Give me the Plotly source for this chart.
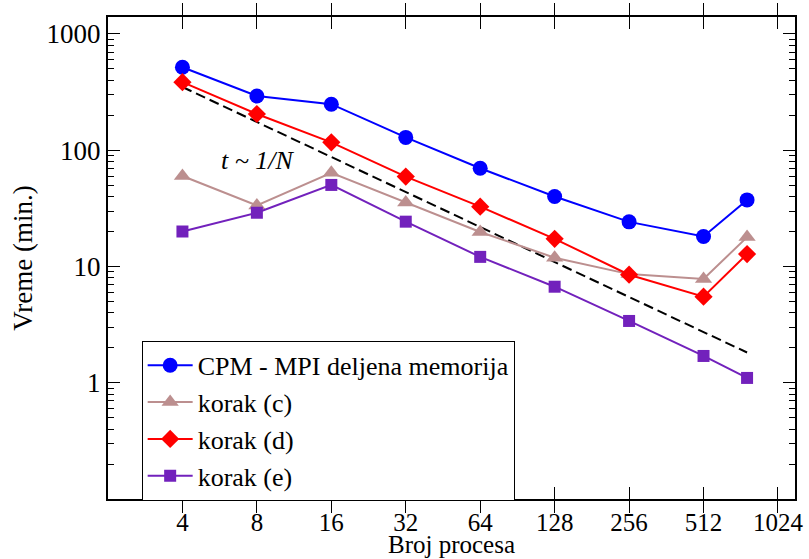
import plotly.graph_objects as go
import numpy as np

procs = [4, 8, 16, 32, 64, 128, 256, 512, 768]
cpm = [518, 293, 249, 129, 70, 40, 24.2, 18.1, 37.4]
korak_c = [60, 33.5, 64, 35.5, 19.8, 11.9, 8.6, 7.8, 17.9]
korak_d = [385, 205, 117, 59.3, 32.7, 17.3, 8.5, 5.5, 12.8]
korak_e = [20, 29, 50.3, 24.3, 12.1, 6.7, 3.4, 1.7, 1.1]
ideal_x = [4, 768]
ideal_y = [350, 1.82]

x_ticks = [4, 8, 16, 32, 64, 128, 256, 512, 1024]
y_ticks = [1, 10, 100, 1000]
y_minor = [m * 10 ** k for k in range(-1, 4) for m in range(2, 10) if m * 10 ** k < 1400]

FONT = "Liberation Serif, Times New Roman, Times, serif"
fig = go.Figure()

series = [
    ("CPM - MPI deljena memorija", cpm, "#0000ff", "circle", 15),
    ("korak (c)", korak_c, "#bc8f8f", "triangle-up", 15),
    ("korak (d)", korak_d, "#ff0000", "diamond", 14),
    ("korak (e)", korak_e, "#7221bc", "square", 12),
]
fig.add_trace(go.Scatter(x=ideal_x, y=ideal_y, mode="lines", showlegend=False,
                         line=dict(color="black", width=2, dash="10px,5px")))
for name, ys, col, sym, sz in series:
    fig.add_trace(go.Scatter(x=procs, y=ys, name=name, mode="lines+markers",
                             line=dict(color=col, width=2),
                             marker=dict(color=col, symbol=sym, size=sz)))

# invisible trace for minor tick axis
fig.add_trace(go.Scatter(x=ideal_x, y=ideal_y, yaxis="y2", mode="lines",
                         line=dict(width=0), showlegend=False, hoverinfo="skip"))

yr = [-1, np.log10(1400)]
fig.update_layout(
    width=809, height=559,
    margin=dict(l=108, r=14, t=17, b=60),
    paper_bgcolor="white", plot_bgcolor="white",
    font=dict(family=FONT, size=27, color="black"),
    xaxis=dict(type="log", range=[np.log10(2), np.log10(1200)], automargin=False,
               tickvals=x_ticks, ticktext=[str(v) for v in x_ticks],
               tickfont=dict(size=25),
               ticks="inside", ticklen=12, tickwidth=1, tickcolor="black",
               showline=True, linecolor="black", linewidth=2, mirror="allticks",
               showgrid=False, zeroline=False),
    yaxis=dict(type="log", range=yr, automargin=False,
               tickvals=y_ticks, ticktext=[str(v) for v in y_ticks],
               ticks="inside", ticklen=12, tickwidth=1, tickcolor="black",
               showline=True, linecolor="black", linewidth=2, mirror="allticks",
               showgrid=False, zeroline=False,
               title=dict(text="Vreme (min.)", standoff=6, font=dict(size=27))),
    yaxis2=dict(type="log", range=yr, overlaying="y", side="left", automargin=False,
                tickvals=y_minor, ticks="inside", ticklen=6, tickwidth=1,
                tickcolor="black", showticklabels=False, showline=True,
                linecolor="black", linewidth=2, mirror="allticks",
                showgrid=False, zeroline=False),
    legend=dict(x=0.049, y=0.328, xanchor="left", yanchor="top",
                bordercolor="black", borderwidth=1, bgcolor="white",
                font=dict(family=FONT, size=26), tracegroupgap=0,
                itemwidth=45),
    annotations=[
        dict(x=np.log10(8.1), y=np.log10(82), xref="x", yref="y",
             text="<i>t ~ 1/N</i>", showarrow=False,
             font=dict(family=FONT, size=26)),
        dict(x=0.5, y=0, xref="paper", yref="paper", yanchor="bottom",
             yshift=-60, text="Broj procesa", showarrow=False, borderpad=0,
             font=dict(family=FONT, size=25)),
    ],
)

fig.write_html("out.html")
